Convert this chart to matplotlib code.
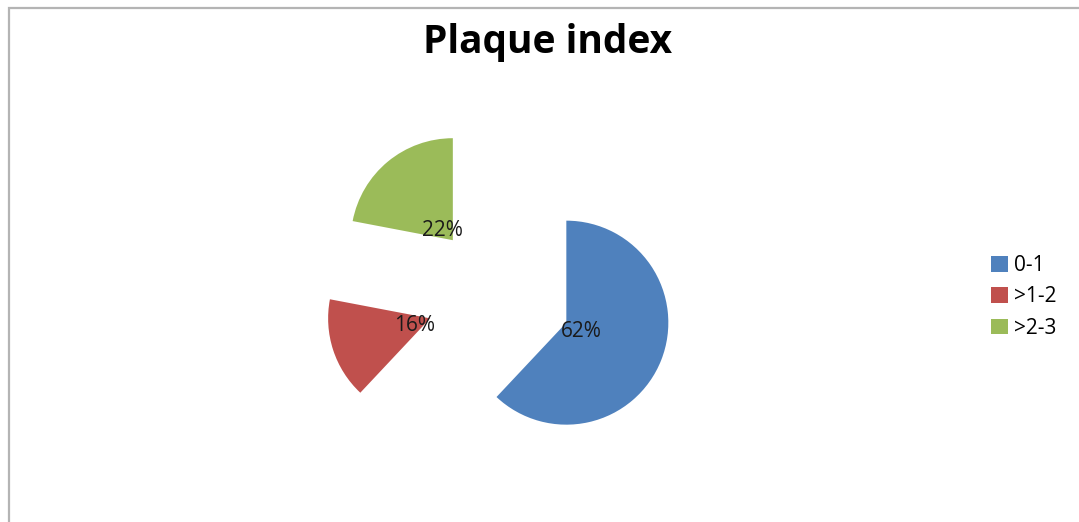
import matplotlib.pyplot as plt
import matplotlib.patches as patches

# Plaque index distribution
categories = ['0-1', '>1-2', '>2-3']
shares = [62, 16, 22]
colors = ['#4F81BD', '#C0504D', '#9BBB59']

W, H = 1079, 522
fig = plt.figure(figsize=(W / 100, H / 100), dpi=100)
plt.rcParams['font.family'] = ['Open Sans', 'DejaVu Sans']

# outer chart frame (only top/left visible in the original)
frame = patches.Rectangle((8.5 / W, -0.1), 1.2, 1.1 - 8 / H, transform=fig.transFigure,
                          fill=False, edgecolor='#b4b4b4', linewidth=1.6)
fig.patches.append(frame)

cx, cy, r_px = 499, 296, 102
half = 210
ax = fig.add_axes([(cx - half) / W, (H - cy - half) / H, 2 * half / W, 2 * half / H])
wedges, texts, autotexts = ax.pie(shares, colors=colors, startangle=90, counterclock=False,
                                  explode=[0.71] * len(shares), autopct='%d%%',
                                  pctdistance=0.16, wedgeprops=dict(linewidth=0),
                                  textprops=dict(fontsize=15, color='#1a1a1a'))
for t in autotexts:
    t.set_va('center_baseline')
ax.set_xlim(-half / r_px, half / r_px)
ax.set_ylim(-half / r_px, half / r_px)
ax.axis('off')

fig.text(548 / W, 1 - 53 / H, 'Plaque index', ha='center', va='baseline',
         fontsize=28, fontweight='bold', color='black')

fig.legend(wedges, categories, loc='center left', bbox_to_anchor=(991 / W, 1 - 297 / H),
           frameon=False, fontsize=15, handlelength=0.8, handleheight=0.8,
           handletextpad=0.3, labelspacing=0.49, borderpad=0, borderaxespad=0)

fig.savefig('out.png', dpi=100)
